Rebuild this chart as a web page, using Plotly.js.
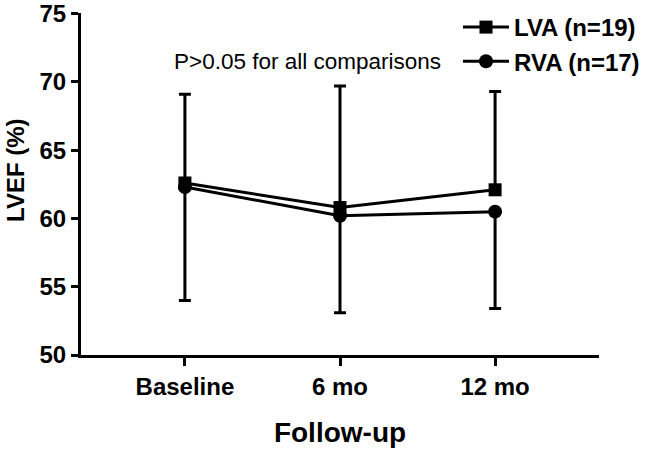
<!DOCTYPE html>
<html>
<head>
<meta charset="utf-8">
<script src="https://cdn.plot.ly/plotly-3.0.1.min.js"></script>
<style>
  html, body { margin: 0; padding: 0; background: #ffffff; }
  #chart { width: 653px; height: 451px; }
</style>
</head>
<body>
<div id="chart"></div>
<script>
// LVEF over follow-up, LVA vs RVA groups
const visits = ['Baseline', '6 mo', '12 mo'];

const lvaMean = [62.6, 60.8, 62.1];
const lvaSd = [6.5, 8.9, 7.2];      // drawn upward only

const rvaMean = [62.3, 60.2, 60.5];
const rvaSd = [8.3, 7.1, 7.1];      // drawn downward only

const yRange = [50, 75];
const yStep = 5;

const fontFamily = '"Liberation Sans", Arial, Helvetica, sans-serif';
const zeros = visits.map(() => 0);

const traces = [
    {
        x: visits,
        y: lvaMean,
        type: 'scatter',
        mode: 'lines+markers',
        name: 'LVA (n=19)',
        line: { color: '#000000', width: 3 },
        marker: { symbol: 'square', size: 13, color: '#000000' },
        error_y: {
            type: 'data',
            symmetric: false,
            array: lvaSd,
            arrayminus: zeros,
            color: '#000000',
            thickness: 3,
            width: 6
        }
    },
    {
        x: visits,
        y: rvaMean,
        type: 'scatter',
        mode: 'lines+markers',
        name: 'RVA (n=17)',
        line: { color: '#000000', width: 3 },
        marker: { symbol: 'circle', size: 14, color: '#000000' },
        error_y: {
            type: 'data',
            symmetric: false,
            array: zeros,
            arrayminus: rvaSd,
            color: '#000000',
            thickness: 3,
            width: 6
        }
    }
];

const layout = {
    width: 653,
    height: 451,
    font: { family: fontFamily, color: '#000000' },
    plot_bgcolor: '#ffffff',
    paper_bgcolor: '#ffffff',
    margin: { t: 13, r: 54, b: 96, l: 81, autoexpand: false },
    showlegend: true,
    legend: {
        xref: 'container',
        yref: 'container',
        x: 458 / 653,
        y: 1 - 5 / 451,
        xanchor: 'left',
        yanchor: 'top',
        bgcolor: 'rgba(0,0,0,0)',
        itemwidth: 46,
        font: { family: fontFamily, size: 24, color: '#000000', weight: 'bold' }
    },
    xaxis: {
        type: 'category',
        range: [-0.67, 2.67],
        showgrid: false,
        zeroline: false,
        showline: true,
        linecolor: '#000000',
        linewidth: 3,
        ticks: 'outside',
        ticklen: 8,
        tickwidth: 3,
        tickcolor: '#000000',
        tickfont: { family: fontFamily, size: 24, weight: 'bold' },
        title: {
            text: 'Follow-up',
            standoff: 24,
            font: { family: fontFamily, size: 28, weight: 'bold' }
        }
    },
    yaxis: {
        range: [yRange[0], yRange[1] + 0.05],
        tickmode: 'linear',
        tick0: yRange[0],
        dtick: yStep,
        showgrid: false,
        zeroline: false,
        showline: true,
        linecolor: '#000000',
        linewidth: 3,
        ticks: 'outside',
        ticklen: 7,
        tickwidth: 3,
        tickcolor: '#000000',
        tickfont: { family: fontFamily, size: 24, weight: 'bold' }
    },
    annotations: [
        {
            text: 'P>0.05 for all comparisons',
            xref: 'paper',
            yref: 'paper',
            x: (307 - 81) / 518,
            y: (355 - 62) / 342,
            xanchor: 'center',
            yanchor: 'middle',
            showarrow: false,
            font: { family: fontFamily, size: 22.5, color: '#000000' }
        },
        {
            text: 'LVEF (%)',
            xref: 'paper',
            yref: 'paper',
            x: (16 - 81) / 518,
            y: (355 - 170) / 342,
            xanchor: 'center',
            yanchor: 'middle',
            textangle: -90,
            showarrow: false,
            font: { family: fontFamily, size: 24, color: '#000000', weight: 'bold' }
        }
    ]
};

Plotly.newPlot('chart', traces, layout, { displayModeBar: false, staticPlot: true });
</script>
</body>
</html>
